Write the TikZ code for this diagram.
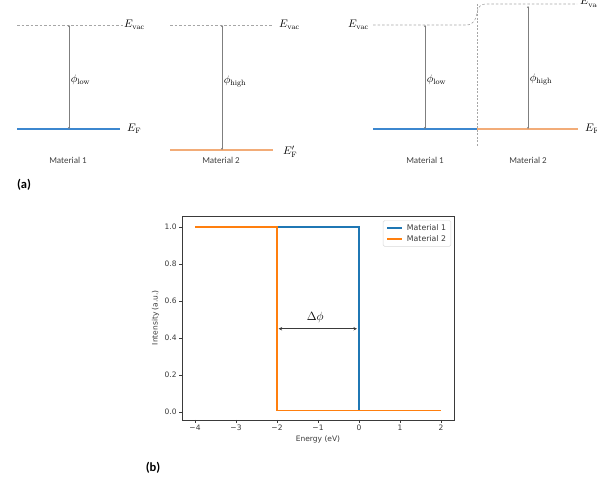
\documentclass[tikz,border=0pt]{standalone}
\usepackage{fontspec}
\newfontfamily\calfont{Carlito}
\newfontfamily\pltfont{DejaVu Sans}
\usetikzlibrary{arrows.meta,positioning,calc}
\definecolor{mblue}{HTML}{1F77B4}
\definecolor{morange}{HTML}{FF7F0E}
\definecolor{lblue}{HTML}{3C87CF}
\definecolor{lorange}{HTML}{F2AC78}
\definecolor{vacgray}{HTML}{A6A6A6}
\definecolor{wfgray}{HTML}{7F7F7F}
\definecolor{axgray}{HTML}{3A3A3A}

\begin{document}
\begin{tikzpicture}[x=1pt, y=-1pt,
    vac/.style={draw=vacgray, dash pattern=on 2.5pt off 2pt, line width=0.6pt},
    iface/.style={draw=vacgray, dash pattern=on 2pt off 1.5pt, line width=0.6pt},
    wf/.style={{Stealth[length=2pt,width=2pt]}-{Stealth[length=2pt,width=2pt]}, draw=wfgray, line width=0.5pt},
    fermi/.style={line width=1.3pt},
    lev/.style={font=\fontsize{11}{12}\selectfont, inner sep=1pt},
    phil/.style={font=\fontsize{11}{12}\selectfont, inner sep=1.5pt, right},
    matl/.style={font=\calfont\fontsize{9}{10}\selectfont, text=black!75},
    panel/.style={font=\calfont\bfseries\fontsize{12.5}{13}\selectfont},
    plt/.style={font=\pltfont\fontsize{7.5}{8}\selectfont, text=axgray, inner sep=1pt},
    spine/.style={draw=axgray, line width=0.6pt},
    curve/.style={line width=1.2pt}]
  \useasboundingbox (0,0) rectangle (597,481);

  % (a) left: material 1
  \coordinate (va1) at (17,25);
  \coordinate (vb1) at (123,25);
  \coordinate (ft1) at (69,25);
  \coordinate (fb1) at (69,129);
  \draw[vac] (va1) -- (vb1);
  \node[lev, right] (ev1) at (vb1) {$E_{\mathrm{vac}}$};
  \draw[fermi, lblue] (17,129) coordinate (fa1) -- (120,129) coordinate (fe1);
  \node[lev, right=6pt of fe1] (ef1) {$E_{\mathrm{F}}$};
  \draw[wf] (ft1) -- (fb1) node[phil, pos=0.53] (phi1) {$\phi_{\mathrm{low}}$};
  \node[matl] (m1) at (68,160) {Material 1};

  % (a) middle: material 2
  \coordinate (va2) at (170,25);
  \coordinate (vb2) at (273,25);
  \coordinate (ft2) at (222,25);
  \coordinate (fb2) at (222,150);
  \draw[vac] (va2) -- (vb2);
  \node[lev, right=5pt of vb2] (ev2) {$E_{\mathrm{vac}}$};
  \draw[fermi, lorange] (170,150) coordinate (fa2) -- (273,150) coordinate (fe2);
  \node[lev, right=9pt of fe2, yshift=-2pt] (ef2) {$E'_{\mathrm{F}}$};
  \draw[wf] (ft2) -- (fb2) node[phil, pos=0.45] (phi2) {$\phi_{\mathrm{high}}$};
  \node[matl] (m2) at (221,160) {Material 2};

  % (a) right: contact
  \coordinate (va3) at (373,25);
  \coordinate (vc3) at (577,4);
  \draw[vac] (va3) -- (466,25) .. controls (474,25) and (476,19) .. (477,13)
    .. controls (478,7) and (480,4) .. (487,4) -- (vc3);
  \node[lev, left=3pt of va3] (ev3) {$E_{\mathrm{vac}}$};
  \node[lev, right=2pt of vc3, yshift=2pt] (ev4) {$E'_{\mathrm{vac}}$};
  \coordinate (it) at (477,4);
  \coordinate (ib) at (477,147);
  \draw[iface] (it) -- (ib);
  \coordinate (fa3) at (373,129);
  \coordinate (fm3) at (477,129);
  \coordinate (fe3) at (578,129);
  \draw[fermi, lblue] (fa3) -- (fm3);
  \draw[fermi, lorange] (fm3) -- (fe3);
  \node[lev, right=6pt of fe3] (ef3) {$E_{\mathrm{F}}$};
  \coordinate (ft3) at (425,25);
  \coordinate (fb3) at (425,129);
  \coordinate (ft4) at (528,6);
  \coordinate (fb4) at (528,129);
  \draw[wf] (ft3) -- (fb3) node[phil, pos=0.53] (phi3) {$\phi_{\mathrm{low}}$};
  \draw[wf] (ft4) -- (fb4) node[phil, pos=0.6] (phi4) {$\phi_{\mathrm{high}}$};
  \node[matl] (m3) at (425,160) {Material 1};
  \node[matl] (m4) at (528,160) {Material 2};
  \node[panel] (pa) at (24,185) {(a)};

  % (b) spectra
  \begin{scope}[shift={(359,412)}, x=41pt, y=185pt]
    \draw[spine] (-4.317,-0.0432) rectangle (2.317,1.0595);
    \foreach \e/\t in {-4/−4,-3/−3,-2/−2,-1/−1,0/0,1/1,2/2} {
      \draw[spine] (\e,-0.0432) -- ++(0,-3.5pt);
      \node[plt, below] (xt\e) at (\e,-0.0640) {\t};
    }
    \foreach \v in {0.0,0.2,0.4,0.6,0.8,1.0} {
      \draw[spine] (-4.317,\v) -- ++(-3.5pt,0);
      \node[plt, left] (yt\v) at (-4.42,\v) {\v};
    }
    \draw[curve, mblue] (-4,1) -- (0,1) -- (0,0.01) -- (2,0.01);
    \draw[curve, morange] (-4,1) -- (-2,1) -- (-2,0.01) -- (2,0.01);
    \coordinate (dl) at (-1.96,0.45);
    \coordinate (dr) at (-0.05,0.45);
    \draw[{Stealth[length=3.5pt,width=3.5pt]}-{Stealth[length=3.5pt,width=3.5pt]}, draw=axgray, line width=0.7pt] (dl) -- (dr);
    \node[font=\fontsize{13}{14}\selectfont] (dphi) at (-1.07,0.51) {$\Delta\phi$};
    \node[plt] (xlab) at (-1,-0.148) {Energy (eV)};
    \node[plt, rotate=90] (ylab) at (-4.96,0.51) {Intensity (a.u.)};
    % legend
    \draw[draw=black!15, fill=white, rounded corners=1.5pt] (0.59,1.035) rectangle (2.24,0.895);
    \draw[curve, mblue] (0.69,0.995) -- (1.05,0.995);
    \draw[curve, morange] (0.69,0.935) -- (1.05,0.935);
    \node[plt, right, font=\pltfont\fontsize{7.8}{8}\selectfont] (lg1) at (1.14,0.995) {Material 1};
    \node[plt, right, font=\pltfont\fontsize{7.8}{8}\selectfont] (lg2) at (1.14,0.935) {Material 2};
  \end{scope}
  \node[panel] (pb) at (153,468) {(b)};
\end{tikzpicture}
\end{document}
